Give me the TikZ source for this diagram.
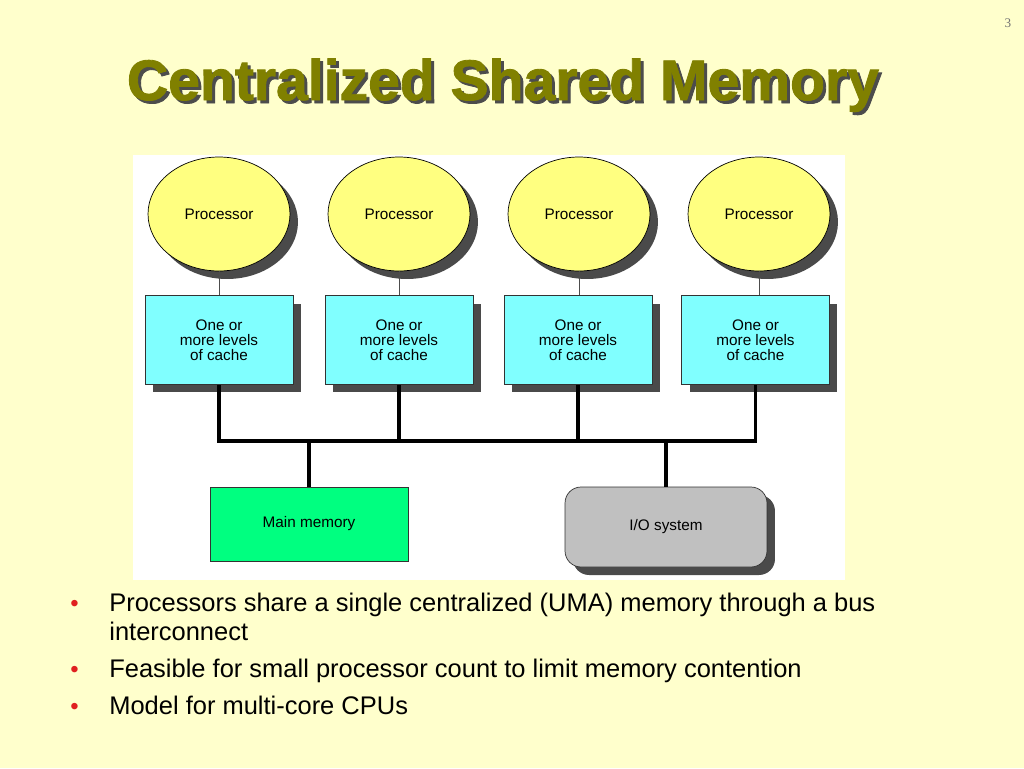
\documentclass[tikz,border=0pt]{standalone}
\usepackage{fontspec}
\setmainfont{Liberation Sans}
\newfontfamily\titlefont{Liberation Sans Bold}[FakeBold=1.5]
\newfontfamily\pagefont{Liberation Serif}
\usetikzlibrary{shapes.geometric,shadows}
\definecolor{bgyel}{HTML}{FFFFCC}
\definecolor{titleol}{HTML}{808000}
\definecolor{procy}{HTML}{FFFF80}
\definecolor{cachec}{HTML}{80FFFF}
\definecolor{memg}{HTML}{00FF80}
\definecolor{iog}{HTML}{C0C0C0}
\definecolor{shad}{HTML}{4A4A4A}
\definecolor{bulred}{HTML}{E02020}
\tikzset{
  shd/.style={drop shadow={shadow xshift=0.16cm,shadow yshift=-0.16cm,fill=shad,opacity=1}},
  proc/.style={ellipse,draw=black,line width=0.4pt,fill=procy,minimum width=2.84cm,minimum height=2.28cm,inner sep=0pt,shd,font=\fontsize{8.7}{9}\selectfont},
  cachebox/.style={rectangle,draw=black!80,line width=0.4pt,fill=cachec,minimum width=2.96cm,minimum height=1.78cm,inner sep=0pt,shd,align=center,font=\fontsize{8.7}{8.5}\selectfont},
  membox/.style={rectangle,draw=black!80,line width=0.4pt,fill=memg,minimum width=3.96cm,minimum height=1.48cm,inner sep=0pt,font=\fontsize{8.7}{9}\selectfont},
  iobox/.style={rectangle,rounded corners=0.32cm,draw=black!80,line width=0.4pt,fill=iog,minimum width=4.04cm,minimum height=1.6cm,inner sep=0pt,shd,font=\fontsize{8.7}{9}\selectfont},
  thinline/.style={draw=black!70,line width=0.5pt},
  bus/.style={draw=black,line width=2.2pt,line join=miter},
  bullettext/.style={anchor=base west,inner sep=0pt,font=\fontsize{14.5}{17}\selectfont},
  bulletdot/.style={anchor=base west,inner sep=0pt,text=bulred,font=\fontsize{13.6}{16.4}\selectfont},
}
\begin{document}
\begin{tikzpicture}[x=0.02cm,y=-0.02cm]
\fill[bgyel] (0,0) rectangle (1024,768);
\useasboundingbox (0,0) rectangle (1024,768);
\node[anchor=center,inner sep=0pt,text=black!55,font=\pagefont\fontsize{7.5}{8}\selectfont] (pg) at (1008,23) {3};
% title
\node[anchor=base,inner sep=0pt,text=black!70,font=\titlefont\fontsize{32.5}{36}\selectfont] (titleshadow) at (506,103) {Centralized Shared Memory};
\node[anchor=base,inner sep=0pt,text=titleol,font=\titlefont\fontsize{32.5}{36}\selectfont] (title) at (503,100) {Centralized Shared Memory};
% white panel
\fill[white] (133,155) rectangle (845,580);
% processors
\node[proc] (p1) at (219,214) {Processor};
\node[proc] (p2) at (399,214) {Processor};
\node[proc] (p3) at (579,214) {Processor};
\node[proc] (p4) at (759,214) {Processor};
% caches
\node[cachebox] (c1) at (219,340) {One or\\more levels\\of cache};
\node[cachebox] (c2) at (399,340) {One or\\more levels\\of cache};
\node[cachebox] (c3) at (578,340) {One or\\more levels\\of cache};
\node[cachebox] (c4) at (755.5,340) {One or\\more levels\\of cache};
\foreach \i in {1,2,3,4} {\draw[thinline] (p\i.south) -- (p\i.south |- c\i.north);}
% memory and io
\node[membox] (mem) at (309,524) {Main memory};
\node[iobox] (io) at (666,527) {I/O system};
% bus
\coordinate (busy) at (0,441);
\draw[bus] (c1.south) -- (c1.south |- busy) -- (c4.south |- busy) -- (c4.south);
\draw[bus] (c2.south) -- (c2.south |- busy);
\draw[bus] (c3.south) -- (c3.south |- busy);
\draw[bus] (mem.north) -- (mem.north |- busy);
\draw[bus] (io.north) -- (io.north |- busy);
% bullets
\node[bulletdot] (d1) at (70,611) {\textbullet};
\node[bullettext] (t1) at (109,611) {Processors share a single centralized (UMA) memory through a bus};
\node[bullettext] (t1b) at (109,640) {interconnect};
\node[bulletdot] (d2) at (70,677) {\textbullet};
\node[bullettext] (t2) at (109,677) {Feasible for small processor count to limit memory contention};
\node[bulletdot] (d3) at (70,714) {\textbullet};
\node[bullettext] (t3) at (109,714) {Model for multi-core CPUs};
\end{tikzpicture}
\end{document}
